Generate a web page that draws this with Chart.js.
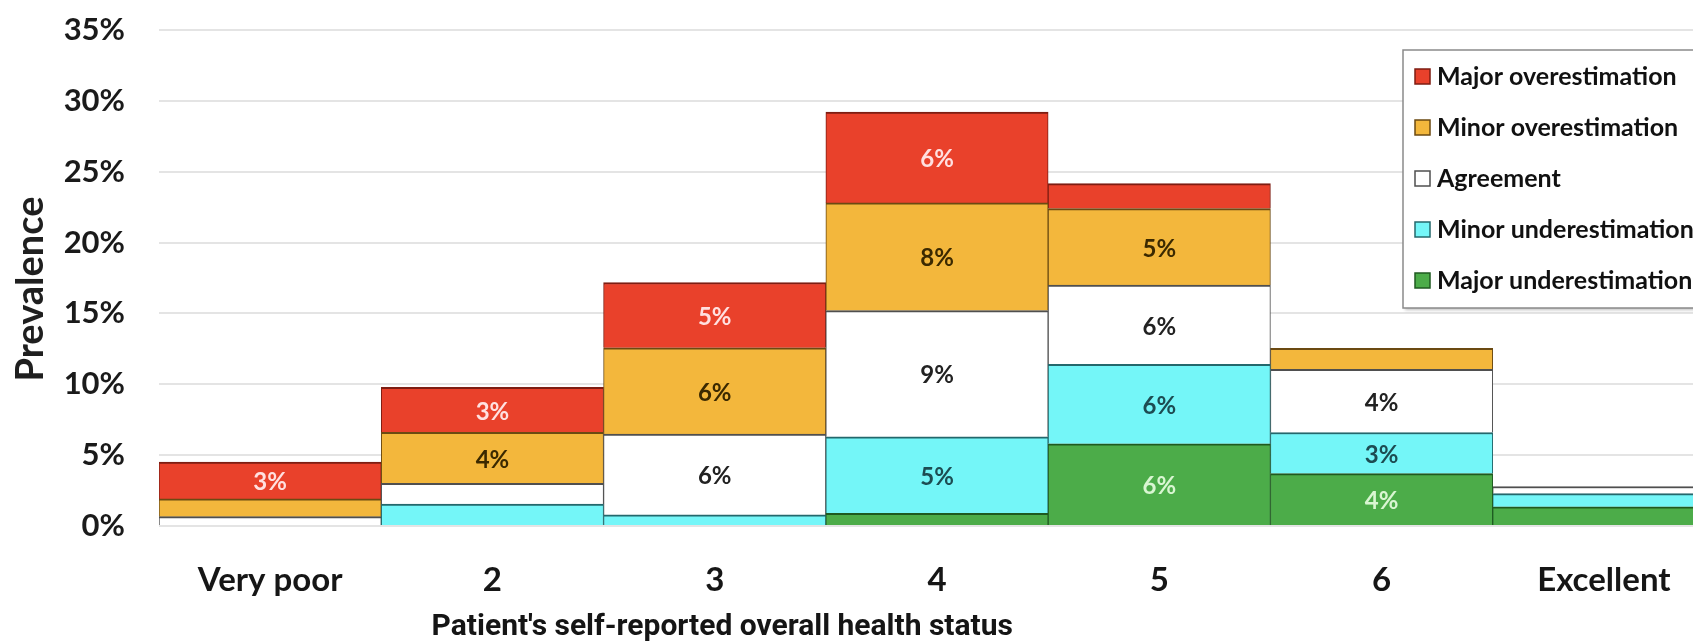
<!DOCTYPE html>
<html>
<head>
<meta charset="utf-8">
<script src="https://cdn.jsdelivr.net/npm/chart.js@4.4.1/dist/chart.umd.min.js"></script>
<style>
  html, body { margin: 0; padding: 0; background: #ffffff; overflow: hidden; }
  #wrap { width: 1693px; height: 644px; overflow: hidden; position: relative; }
  canvas { display: block; }
</style>
</head>
<body>
<div id="wrap"><canvas id="chart" width="1750" height="644"></canvas></div>
<script>
// Self-reported health status categories
const categories = ['Very poor', '2', '3', '4', '5', '6', 'Excellent'];

// Prevalence (%) of each agreement level, stacked from the bottom up
const majorUnderestimation = [0, 0, 0, 0.9, 5.8, 3.7, 1.35];
const minorUnderestimation = [0, 1.55, 0.78, 5.4, 5.6, 2.9, 0.94];
const agreement            = [0.66, 1.46, 5.7, 8.9, 5.6, 4.46, 0.5];
const minorOverestimation  = [1.25, 3.6, 6.1, 7.6, 5.4, 1.48, 0];
const majorOverestimation  = [2.6, 3.17, 4.6, 6.4, 1.76, 0, 0];

// Y axis tick values (%)
const yTicks = [0, 5, 10, 15, 20, 25, 30, 35];

const seriesNames = ['Major underestimation', 'Minor underestimation', 'Agreement',
                     'Minor overestimation', 'Major overestimation'];

const LABEL_FONT = 'Lato, "Open Sans", sans-serif';
const NARROW_FONT = '"Liberation Sans Narrow", "Arial Narrow", Roboto, sans-serif';

function makeSet(label, data, fill, edge, text) {
  return {
    label, data,
    backgroundColor: fill,
    borderColor: edge,
    borderWidth: { top: 2, bottom: 0, left: 1, right: 1 },
    borderSkipped: false,
    barPercentage: 1.0,
    categoryPercentage: 1.0,
    labelColor: text
  };
}

const datasets = [
  makeSet(seriesNames[0], majorUnderestimation, '#4cac49', '#1f5a21', '#d9f6d2'),
  makeSet(seriesNames[1], minorUnderestimation, '#74f6f8', '#24686c', '#1d4c52'),
  makeSet(seriesNames[2], agreement,            '#ffffff', '#4f4f4f', '#222222'),
  makeSet(seriesNames[3], minorOverestimation,  '#f3b73c', '#6b4a12', '#3b2900'),
  makeSet(seriesNames[4], majorOverestimation,  '#e9412b', '#7e1d12', '#ffe0e0')
];

// Percentage labels centred in the larger segments
const segmentLabels = {
  id: 'segmentLabels',
  afterDatasetsDraw(chart) {
    const ctx = chart.ctx;
    ctx.save();
    ctx.font = 'bold 24px ' + LABEL_FONT;
    ctx.textAlign = 'center';
    ctx.textBaseline = 'middle';
    chart.data.datasets.forEach((ds, i) => {
      const meta = chart.getDatasetMeta(i);
      meta.data.forEach((bar, j) => {
        const v = ds.data[j];
        if (v < 2) return;
        ctx.fillStyle = ds.labelColor;
        ctx.fillText(Math.round(v) + '%', bar.x, (bar.y + bar.base) / 2 + 2);
      });
    });
    ctx.restore();
  }
};

// Boxed legend in the upper right of the plot, top series first
const boxedLegend = {
  id: 'boxedLegend',
  afterDraw(chart) {
    const ctx = chart.ctx;
    const area = chart.chartArea;
    const left = area.right - 312;
    const top = area.top + 20;
    const w = 330, h = 258;
    ctx.save();
    ctx.shadowColor = 'rgba(0,0,0,0.25)';
    ctx.shadowOffsetX = 2;
    ctx.shadowOffsetY = 2;
    ctx.shadowBlur = 3;
    ctx.fillStyle = '#ffffff';
    ctx.fillRect(left, top, w, h);
    ctx.shadowColor = 'transparent';
    ctx.strokeStyle = '#8a8a8a';
    ctx.lineWidth = 1.5;
    ctx.strokeRect(left, top, w, h);
    const items = chart.data.datasets.slice().reverse();
    ctx.font = 'bold 25px ' + LABEL_FONT;
    ctx.textBaseline = 'middle';
    ctx.textAlign = 'left';
    items.forEach((ds, k) => {
      const cy = top + 26 + k * 51;
      ctx.fillStyle = ds.backgroundColor;
      ctx.fillRect(left + 12, cy - 7, 15, 15);
      ctx.strokeStyle = ds.borderColor;
      ctx.lineWidth = 1.5;
      ctx.strokeRect(left + 12, cy - 7, 15, 15);
      ctx.fillStyle = '#111111';
      ctx.fillText(ds.label, left + 34, cy + 1);
    });
    ctx.restore();
  }
};

// Axis captions: horizontal caption below the categories, vertical one at the left
const axisCaptions = {
  id: 'axisCaptions',
  afterDraw(chart) {
    const ctx = chart.ctx;
    const area = chart.chartArea;
    ctx.save();
    ctx.font = 'bold 30px ' + NARROW_FONT;
    ctx.fillStyle = '#151515';
    ctx.textAlign = 'center';
    ctx.textBaseline = 'middle';
    const x = area.left + (area.right - area.left) * 0.362;
    ctx.fillText("Patient's self-reported overall health status", x, area.bottom + 101);

    ctx.translate(31, (area.top + area.bottom) / 2 + 11);
    ctx.rotate(-Math.PI / 2);
    ctx.font = 'bold 38px ' + LABEL_FONT;
    ctx.fillStyle = '#1f1f1f';
    ctx.fillText('Prevalence', 0, 0);
    ctx.restore();
  }
};

new Chart(document.getElementById('chart'), {
  type: 'bar',
  data: { labels: categories, datasets },
  options: {
    responsive: false,
    animation: false,
    layout: { padding: { top: 30, right: 35, bottom: 0, left: 0 } },
    plugins: { legend: { display: false }, tooltip: { enabled: false } },
    scales: {
      x: {
        stacked: true,
        grid: { display: false },
        border: { display: false },
        ticks: {
          autoSkip: false, maxRotation: 0,
          color: '#161616', padding: 27,
          font: { family: LABEL_FONT, size: 33, weight: 'bold' }
        },
        afterFit(scale) { scale.height = 118; }
      },
      y: {
        stacked: true,
        min: 0, max: 35,
        afterBuildTicks(scale) { scale.ticks = yTicks.map(v => ({ value: v })); },
        grid: { color: '#e4e4e4', lineWidth: 2, drawTicks: true, tickLength: 34, tickColor: 'rgba(0,0,0,0)' },
        border: { display: false },
        ticks: {
          color: '#1a1a1a', padding: 0,
          font: { family: LABEL_FONT, size: 31, weight: 'bold' },
          callback: v => v + '%'
        },
        afterFit(scale) { scale.width = 159; }
      }
    }
  },
  plugins: [segmentLabels, boxedLegend, axisCaptions]
});
</script>
</body>
</html>
